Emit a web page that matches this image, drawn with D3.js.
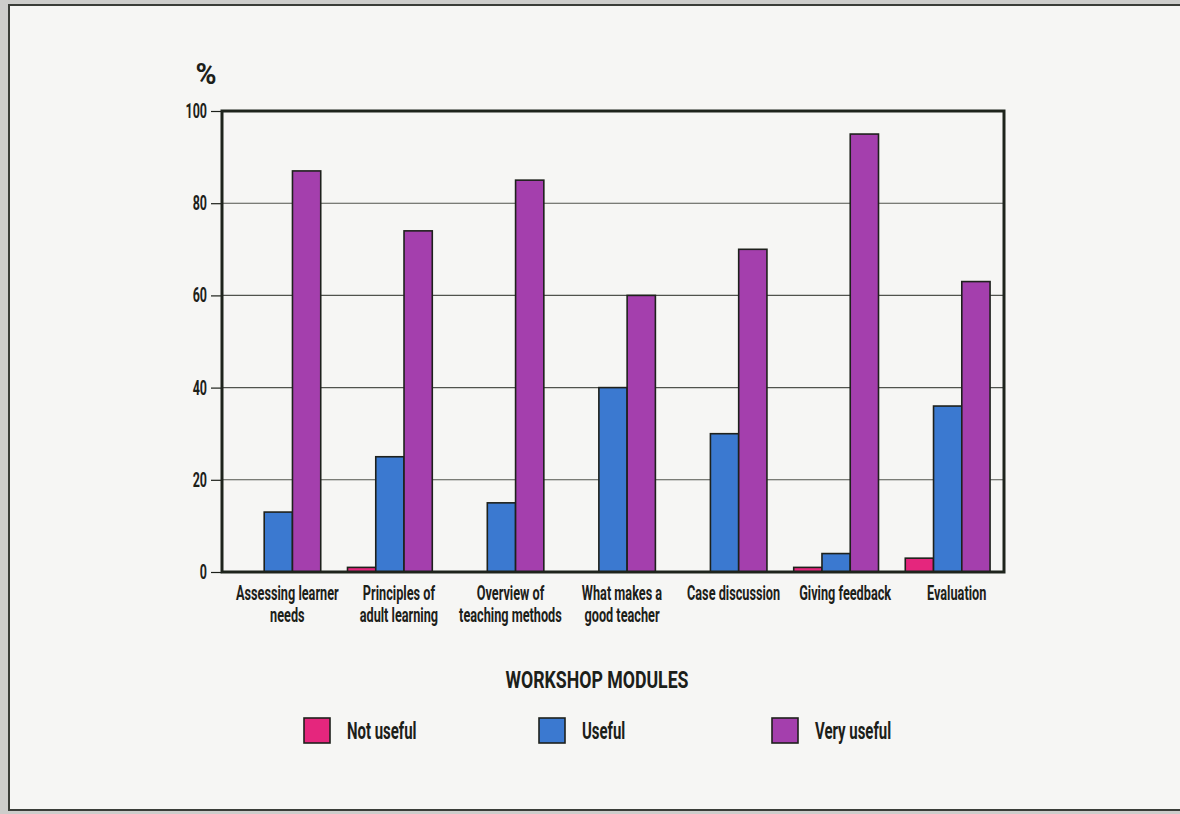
<!DOCTYPE html>
<html lang="en">
<head>
    <meta charset="UTF-8">
    <title>Workshop modules</title>
    <script src="https://d3js.org/d3.v7.min.js"></script>
    <style>
        html, body { margin: 0; padding: 0; background: #cdcdcb; }
        svg { display: block; }
        text { font-family: Roboto, 'Liberation Sans', sans-serif; fill: #1c2019; }
    </style>
</head>
<body>
    <div id="chart"></div>

    <script>
        // data
        const modules = [
            ['Assessing learner', 'needs'],
            ['Principles of', 'adult learning'],
            ['Overview of', 'teaching methods'],
            ['What makes a', 'good teacher'],
            ['Case discussion'],
            ['Giving feedback'],
            ['Evaluation']
        ];
        const seriesNames = ['Not useful', 'Useful', 'Very useful'];
        const notUseful = [0, 1, 0, 0, 0, 1, 3];
        const useful = [13, 25, 15, 40, 30, 4, 36];
        const veryUseful = [87, 74, 85, 60, 70, 95, 63];
        const yTicks = [0, 20, 40, 60, 80, 100];
        const xTitle = 'WORKSHOP MODULES';
        const yTitle = '%';

        const colors = {
            'Not useful': '#e5267d',
            'Useful': '#3b79d0',
            'Very useful': '#a43fad'
        };
        const ink = '#1c2019';

        const width = 1180, height = 814;
        const plot = { left: 222, right: 1004, top: 111, bottom: 572 };

        const svg = d3.select('#chart').append('svg')
            .attr('width', width)
            .attr('height', height);

        // page (the scan's paper) with its frame
        svg.append('rect')
            .attr('x', 9).attr('y', 5)
            .attr('width', width + 20).attr('height', 805)
            .attr('fill', '#f6f6f4')
            .attr('stroke', '#3a3d38')
            .attr('stroke-width', 2);

        const keys = modules.map(d => d.join(' '));
        const table = keys.map((k, i) => ({
            key: k,
            lines: modules[i],
            values: [notUseful[i], useful[i], veryUseful[i]]
        }));

        const x = d3.scaleBand()
            .domain(keys)
            .range([plot.left, plot.right])
            .paddingInner(0.24)
            .paddingOuter(0.125);

        const xSub = d3.scaleBand()
            .domain(seriesNames)
            .range([0, x.bandwidth()]);

        const y = d3.scaleLinear()
            .domain([0, 100])
            .range([plot.bottom, plot.top]);

        // helper for the condensed lettering
        function label(g, txt, tx, ty, size, anchor, sx) {
            return g.append('text')
                .attr('transform', `translate(${tx},${ty}) scale(${sx},1)`)
                .attr('text-anchor', anchor)
                .style('font-size', size + 'px')
                .style('font-weight', 'bold')
                .text(txt);
        }

        // gridlines
        svg.append('g')
            .selectAll('line')
            .data(yTicks.filter(t => t > 0 && t < 100))
            .join('line')
            .attr('x1', plot.left).attr('x2', plot.right)
            .attr('y1', d => y(d)).attr('y2', d => y(d))
            .attr('stroke', '#50534d')
            .attr('stroke-width', 1.1);

        // y axis ticks and labels
        const yAxis = svg.append('g')
            .attr('transform', `translate(${plot.left},0)`)
            .call(d3.axisLeft(y).tickValues(yTicks).tickSize(11).tickFormat(''));
        yAxis.select('.domain').remove();
        yAxis.selectAll('.tick line').attr('stroke', ink).attr('stroke-width', 1.2);
        yTicks.forEach(t => label(svg, String(t), 207, y(t) + 7, 19.5, 'end', 0.64));

        label(svg, yTitle, 206, 84, 30, 'middle', 0.95);

        // bars
        const groups = svg.append('g')
            .selectAll('g')
            .data(table)
            .join('g')
            .attr('transform', d => `translate(${x(d.key)},0)`);

        groups.selectAll('rect')
            .data(d => d.values.map((v, j) => ({ name: seriesNames[j], value: v })).filter(e => e.value > 0))
            .join('rect')
            .attr('x', e => xSub(e.name))
            .attr('y', e => y(e.value))
            .attr('width', xSub.bandwidth())
            .attr('height', e => y(0) - y(e.value))
            .attr('fill', e => colors[e.name])
            .attr('stroke', '#1e211c')
            .attr('stroke-width', 1.6);

        // plot frame
        svg.append('rect')
            .attr('x', plot.left).attr('y', plot.top)
            .attr('width', plot.right - plot.left)
            .attr('height', plot.bottom - plot.top)
            .attr('fill', 'none')
            .attr('stroke', '#1e241c')
            .attr('stroke-width', 3);

        // category labels
        table.forEach(d => {
            const cx = x(d.key) + x.bandwidth() / 2 + 9;
            d.lines.forEach((ln, k) => {
                label(svg, ln, cx, 600 + k * 22, 20.5, 'middle', 0.62);
            });
        });

        // x title
        label(svg, xTitle, 597, 688, 23, 'middle', 0.77);

        // legend
        const legendX = [304, 539, 772];
        seriesNames.forEach((name, i) => {
            svg.append('rect')
                .attr('x', legendX[i]).attr('y', 718)
                .attr('width', 26).attr('height', 25)
                .attr('fill', colors[name])
                .attr('stroke', '#1e211c')
                .attr('stroke-width', 1.6);
            label(svg, name, legendX[i] + 43, 739, 23, 'start', 0.65);
        });
    </script>
</body>
</html>
